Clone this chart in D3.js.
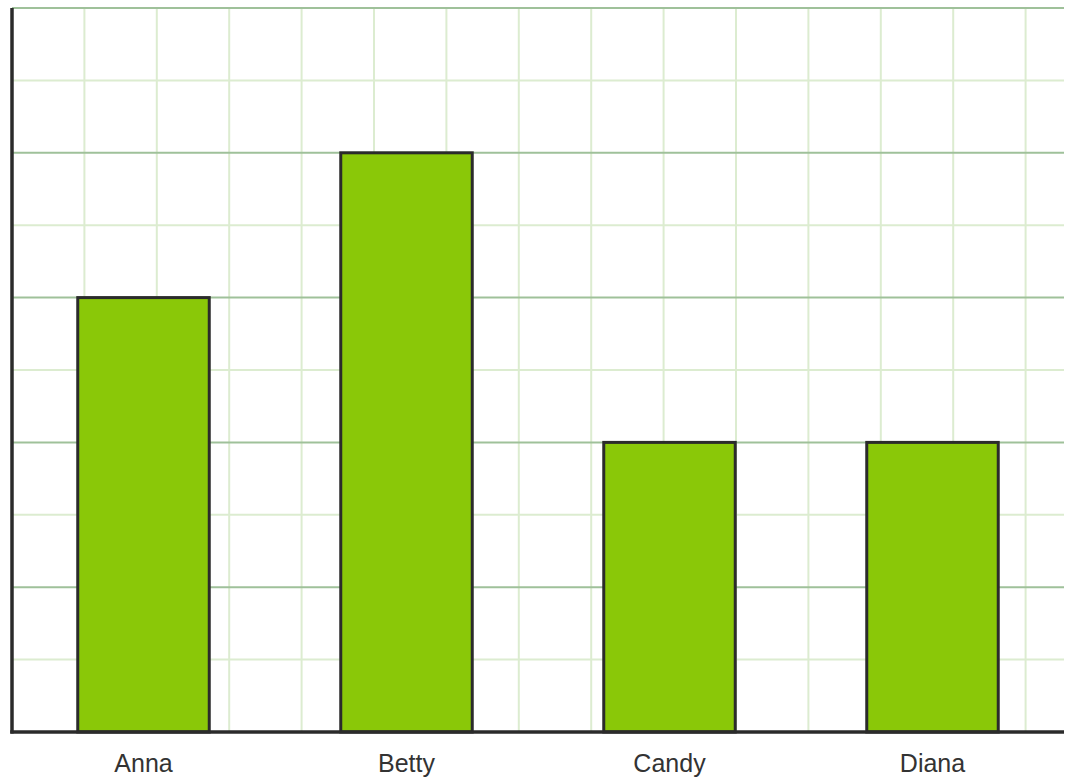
<!DOCTYPE html>
<html><head><meta charset="utf-8">
<script src="https://cdn.jsdelivr.net/npm/d3@7"></script>
<style>html,body{margin:0;padding:0;background:#fff;}svg{display:block;}</style>
</head><body>
<script>
const categories = ["Anna", "Betty", "Candy", "Diana"];
const values = [6, 8, 4, 4];
const yMax = 10;

const W = 1070, H = 783;
const m = {left: 12, right: 6, top: 8, bottom: 51};
const svg = d3.select("body").append("svg").attr("width", W).attr("height", H);

const x = d3.scaleBand().domain(categories).range([m.left, W - m.right]).paddingInner(0.5).paddingOuter(0.25);
const y = d3.scaleLinear().domain([0, yMax]).range([H - m.bottom, m.top]);
const cell = y(0) - y(1);
const xg = d3.scaleLinear().domain([0, (W - m.right - m.left) / cell]).range([m.left, W - m.right]);

const g = svg.append("g");
g.selectAll(".vg").data(d3.range(1, Math.floor(xg.domain()[1]) + 1)).join("line")
  .attr("x1", d => xg(d)).attr("x2", d => xg(d))
  .attr("y1", y(yMax)).attr("y2", y(0))
  .attr("stroke", "#dcecd0").attr("stroke-width", 2);
const yt = d3.range(1, yMax + 1);
g.selectAll(".hm").data(yt.filter(d => d % 2 === 1)).join("line")
  .attr("x1", m.left).attr("x2", W - m.right)
  .attr("y1", d => y(d)).attr("y2", d => y(d))
  .attr("stroke", "#dcecd0").attr("stroke-width", 2);
g.selectAll(".hM").data(yt.filter(d => d % 2 === 0)).join("line")
  .attr("x1", m.left).attr("x2", W - m.right)
  .attr("y1", d => y(d)).attr("y2", d => y(d))
  .attr("stroke", "#9fc19a").attr("stroke-width", 2);

svg.selectAll(".bar").data(values).join("rect")
  .attr("x", (d, i) => x(categories[i]))
  .attr("y", d => y(d))
  .attr("width", x.bandwidth())
  .attr("height", d => y(0) - y(d))
  .attr("fill", "#8ac808")
  .attr("stroke", "#2b2b2b").attr("stroke-width", 3);

svg.append("line").attr("x1", m.left).attr("x2", m.left)
  .attr("y1", y(yMax)).attr("y2", y(0) + 1.5)
  .attr("stroke", "#2b2b2b").attr("stroke-width", 3.5);
svg.append("line").attr("x1", m.left - 1.75).attr("x2", W - m.right)
  .attr("y1", y(0)).attr("y2", y(0))
  .attr("stroke", "#2b2b2b").attr("stroke-width", 3.5);

svg.selectAll(".lab").data(categories).join("text")
  .attr("x", d => x(d) + x.bandwidth() / 2)
  .attr("y", y(0) + 40)
  .attr("text-anchor", "middle")
  .attr("font-family", "Liberation Sans, Arial, sans-serif")
  .attr("font-size", 25)
  .attr("fill", "#333")
  .text(d => d);
</script>
</body></html>
